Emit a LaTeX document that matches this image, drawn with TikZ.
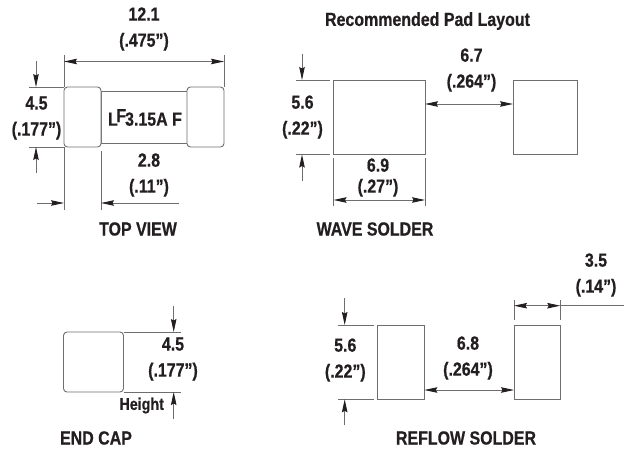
\documentclass[tikz,border=0pt]{standalone}
\usepackage{fontspec}
\setmainfont{Liberation Sans}
\newfontfamily\condfont[FakeStretch=0.84,BoldFeatures={FakeBold=0.6}]{Liberation Sans}
\usetikzlibrary{arrows.meta}
\definecolor{ln}{HTML}{6E6E6E}
\definecolor{tx}{HTML}{231F20}
\tikzset{
  >={Stealth[length=13pt,width=5.5pt,inset=1.5pt,color=tx]},
  pbox/.style={draw=ln,line width=0.9pt,fill=white,inner sep=0pt,outer sep=0pt},
  capbox/.style={pbox,rounded corners=3.5pt},
  extline/.style={draw=ln,line width=0.9pt},
  dimone/.style={draw=ln,line width=0.9pt,->},
  dimtwo/.style={draw=ln,line width=0.9pt,<->},
  lab/.style={text=tx,font=\condfont\bfseries\fontsize{19}{26}\selectfont,align=center,inner sep=0pt},
  labtight/.style={lab,font=\condfont\bfseries\fontsize{19}{21}\selectfont},
  smalltxt/.style={text=tx,font=\condfont\bfseries\fontsize{19}{21}\selectfont,inner sep=0pt},
  headtxt/.style={text=tx,font=\condfont\bfseries\fontsize{19}{20}\selectfont,inner sep=0pt}
}
\begin{document}
\begin{tikzpicture}[x=1pt,y=-1pt]
\useasboundingbox (0,0) rectangle (624,450);
% ---- top view
\node[pbox,minimum width=86pt,minimum height=52pt] (body) at (144,117.5) {};
\node[capbox,minimum width=37pt,minimum height=60pt] (capl) at (82.5,117) {};
\node[capbox,minimum width=37pt,minimum height=60pt] (capr) at (205.5,117) {};
\node[text=tx,font=\condfont\bfseries\fontsize{19}{21}\selectfont,inner sep=0pt] (mark) at (145,117.5) {L\kern-1.5pt\raisebox{3.5pt}{F}\kern-1pt 3.15A F};
\coordinate (t1) at (64,55); \coordinate (t2) at (224,55);
\coordinate (t3) at (64,210); \coordinate (t4) at (101,151); \coordinate (t5) at (101,210);
\coordinate (t6) at (29,87); \coordinate (t7) at (29,147);
\coordinate (a1) at (64,61.5); \coordinate (a2) at (224,61.5);
\coordinate (a3) at (36,61); \coordinate (a4) at (36,87);
\coordinate (a5) at (36,173); \coordinate (a6) at (36,147);
\coordinate (a7) at (37,203); \coordinate (a8) at (64,203);
\coordinate (a9) at (179,203); \coordinate (a10) at (101,203);
\draw[extline] (t1) -- (capl.north west);
\draw[extline] (t2) -- (capr.north east);
\draw[extline] (capl.south west) -- (t3);
\draw[extline] (t4) -- (t5);
\draw[extline] (t6) -- (capl.north west);
\draw[extline] (t7) -- (capl.south west);
\draw[dimtwo] (a1) -- (a2);
\draw[dimone] (a3) -- (a4);
\draw[dimone] (a5) -- (a6);
\draw[dimone] (a7) -- (a8);
\draw[dimone] (a9) -- (a10);
\node[lab] (l121) at (144,29) {12.1\\(.475”)};
\node[lab] (l45) at (36.5,118) {4.5\\(.177”)};
\node[lab] (l28) at (149,175) {2.8\\(.11”)};
\node[headtxt] (tv) at (138,229) {TOP VIEW};
% ---- wave solder
\node[smalltxt] (rec) at (427.5,21) {Recommended Pad Layout};
\node[pbox,minimum width=91.5pt,minimum height=74.5pt] (wl) at (379.25,117.25) {};
\node[pbox,minimum width=64pt,minimum height=74.5pt] (wr) at (545,117.25) {};
\coordinate (w1) at (296,80); \coordinate (w2) at (330,80);
\coordinate (w3) at (296,154.5); \coordinate (w4) at (330,154.5);
\coordinate (w5) at (302,54); \coordinate (w6) at (302,80);
\coordinate (w7) at (302,181); \coordinate (w8) at (302,154.5);
\coordinate (w9) at (333.5,158); \coordinate (w10) at (333.5,206);
\coordinate (w11) at (425,158); \coordinate (w12) at (425,206);
\coordinate (w13) at (333.5,200); \coordinate (w14) at (425,200);
\coordinate (w15) at (425,104); \coordinate (w16) at (513,104);
\draw[extline] (w1) -- (w2); \draw[extline] (w3) -- (w4);
\draw[extline] (w9) -- (w10); \draw[extline] (w11) -- (w12);
\draw[dimone] (w5) -- (w6);
\draw[dimone] (w7) -- (w8);
\draw[dimtwo] (w13) -- (w14);
\draw[dimtwo] (w15) -- (w16);
\node[lab] (l67) at (471.5,70) {6.7\\(.264”)};
\node[lab] (l56) at (302.5,117) {5.6\\(.22”)};
\node[labtight] (l69) at (378,177.5) {6.9\\(.27”)};
\node[headtxt] (ws) at (375,229) {WAVE SOLDER};
% ---- end cap
\node[capbox,minimum width=60pt,minimum height=60pt] (ec) at (93.5,362) {};
\coordinate (e1) at (181,332); \coordinate (e2) at (181,392);
\coordinate (e3) at (173.7,306); \coordinate (e4) at (173.7,332);
\coordinate (e5) at (173.7,419); \coordinate (e6) at (173.7,392);
\draw[extline] (ec.north east) -- (e1);
\draw[extline] (ec.south east) -- (e2);
\draw[dimone] (e3) -- (e4);
\draw[dimone] (e5) -- (e6);
\node[lab] (l45b) at (173,359) {4.5\\(.177”)};
\node[text=tx,font=\condfont\bfseries\fontsize{17}{19}\selectfont,inner sep=0pt] (hg) at (141.7,405.5) {Height};
\node[headtxt] (ecl) at (96,438) {END CAP};
% ---- reflow solder
\node[pbox,minimum width=46.6pt,minimum height=74.3pt] (rl) at (401,362.2) {};
\node[pbox,minimum width=46.3pt,minimum height=74.3pt] (rr) at (537.2,362.2) {};
\coordinate (r1) at (338,325); \coordinate (r2) at (374,325);
\coordinate (r3) at (338,399.3); \coordinate (r4) at (374,399.3);
\coordinate (r5) at (344.7,298); \coordinate (r6) at (344.7,325);
\coordinate (r7) at (344.7,425); \coordinate (r8) at (344.7,399.3);
\coordinate (r9) at (424.3,390); \coordinate (r10) at (514,390);
\coordinate (r11) at (514,300); \coordinate (r12) at (514,320);
\coordinate (r13) at (560.3,300); \coordinate (r14) at (560.3,320);
\coordinate (r15) at (514,305.7); \coordinate (r16) at (560.3,305.7); \coordinate (r17) at (624,305.7);
\draw[extline] (r1) -- (r2); \draw[extline] (r3) -- (r4);
\draw[extline] (r11) -- (r12); \draw[extline] (r13) -- (r14);
\draw[extline] (r16) -- (r17);
\draw[dimone] (r5) -- (r6);
\draw[dimone] (r7) -- (r8);
\draw[dimtwo] (r9) -- (r10);
\draw[dimtwo] (r15) -- (r16);
\node[lab] (l56b) at (345.3,360) {5.6\\(.22”)};
\node[lab] (l68) at (468,358) {6.8\\(.264”)};
\node[lab] (l35) at (596,275) {3.5\\(.14”)};
\node[headtxt] (rf) at (466,438) {REFLOW SOLDER};
\end{tikzpicture}
\end{document}
